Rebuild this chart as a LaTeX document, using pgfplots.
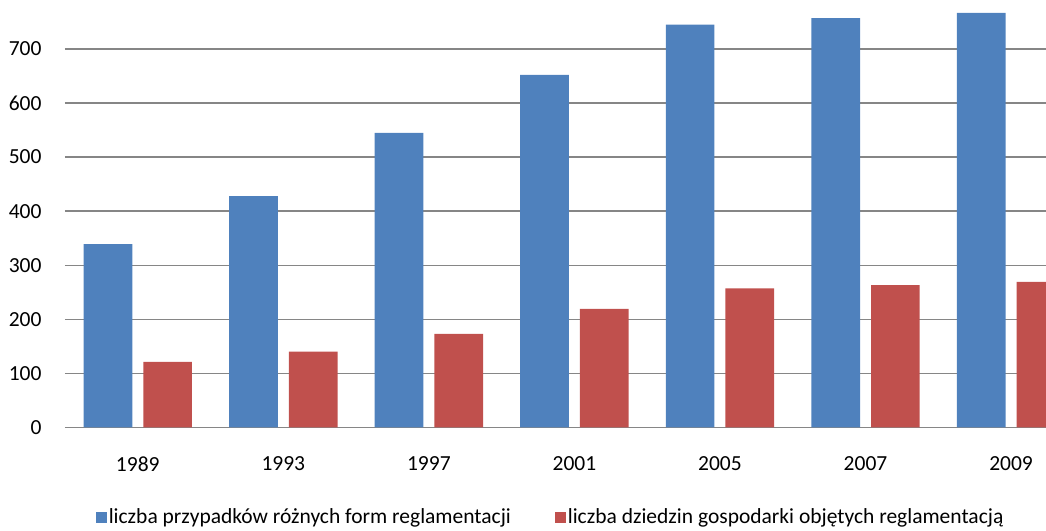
\documentclass[border=0pt]{standalone}
\usepackage{pgfplots}
\pgfplotsset{compat=1.18}
\usepackage{fontspec}
\setmainfont{Carlito}
\definecolor{cblue}{HTML}{4F81BD}
\definecolor{cred}{HTML}{C0504D}
\definecolor{cgrid}{HTML}{868686}
\begin{document}
\begin{tikzpicture}[x=1pt,y=1pt]
\path[use as bounding box] (-65,-102.7) rectangle (981,427.3);
\begin{axis}[
  at={(0,0)}, anchor=south west,
  scale only axis,
  width=981pt, height=427.3pt,
  xmin=-0.5, xmax=6.24,
  ymin=0, ymax=790.7,
  axis line style={draw=none},
  ybar=11pt, bar width=48.7pt,
  xtick={0,1,2,3,4,5,6},
  xticklabels={1989,1993,1997,2001,2005,2007,2009},
  ytick={0,100,...,700},
  ymajorgrids,
  grid style={cgrid, line width=1.3pt},
  major tick length=0pt,
  tick label style={font=\fontsize{21.5}{24}\selectfont},
  /pgf/number format/assume math mode=true,
  yticklabel style={anchor=east, xshift=-20pt},
  xticklabel style={anchor=north, yshift=-26pt},
  legend style={draw=none, at={(0.495,-0.21)}, anchor=center,
    legend columns=2, font=\fontsize{21.5}{24}\selectfont,
    /tikz/every even column/.append style={column sep=42pt},
    inner sep=0pt},
  legend image code/.code={\fill[#1] (0pt,-5.5pt) rectangle (11pt,5.5pt);},
  clip=true,
]
\addplot[fill=cblue, draw=none] coordinates {(0,339) (1,428) (2,545) (3,652) (4,745) (5,757) (6,767)};
\addplot[fill=cred, draw=none] coordinates {(0,121) (1,140) (2,173) (3,219) (4,257) (5,263) (6,269)};
\legend{liczba przypadków różnych form reglamentacji, liczba dziedzin gospodarki objętych reglamentacją}
\end{axis}
\end{tikzpicture}
\end{document}
